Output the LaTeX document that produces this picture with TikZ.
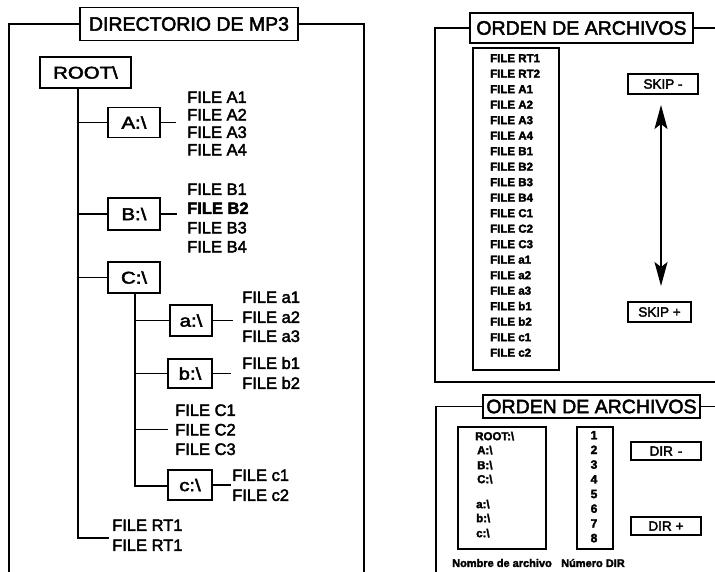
\documentclass[tikz,border=0pt]{standalone}
\usepackage{graphicx}
\usepackage{fontspec}
\setmainfont{Liberation Sans}[FakeBold=2.5]
\usetikzlibrary{arrows.meta}
\newcommand{\wide}[1]{\scalebox{1.2}[1]{#1}}
\begin{document}
\begin{tikzpicture}[x=1pt,y=-1pt,line cap=rect,
  frame/.style={line width=1.6pt},
  conn/.style={line width=1.4pt},
  bx/.style={draw,line width=1.4pt,inner sep=0pt,anchor=center},
  ttl/.style={bx,font=\fontsize{19.5}{20}\selectfont},
  dirbox/.style={bx,minimum width=52pt,minimum height=30pt,font=\fontsize{17}{17}\selectfont},
  ft/.style={anchor=west,inner sep=0pt,text height=11.8pt,text depth=0pt,font=\fontsize{16.5}{17}\selectfont},
  lt/.style={anchor=west,inner sep=0pt,text height=8.3pt,text depth=0pt,font=\fontsize{11.5}{12}\selectfont\bfseries},
  nt/.style={anchor=center,inner sep=0pt,text height=8.6pt,text depth=0pt,font=\fontsize{12}{12}\selectfont\bfseries},
  btn/.style={bx,font=\fontsize{13.5}{14}\selectfont},
]
\useasboundingbox (0,0) rectangle (715,571);
\fill[white] (0,0) rectangle (715,571);

% ---------- left panel ----------
\node[ttl,minimum width=218pt,minimum height=33pt] (t1) at (189,24) {DIRECTORIO DE MP3};
\coordinate (l1tl) at (9,24);
\coordinate (l1bl) at (9,572);
\coordinate (l1tr) at (364,24);
\coordinate (l1br) at (364,572);
\draw[frame] (t1.west) -- (l1tl) -- (l1bl);
\draw[frame] (t1.east) -- (l1tr) -- (l1br);

\node[bx,minimum width=91pt,minimum height=31pt,font=\fontsize{17}{17}\selectfont] (root) at (85.5,72.5) {\wide{ROOT\textbackslash}};
\node[dirbox] (A) at (134,122.5) {\wide{A:\textbackslash}};
\node[dirbox,minimum height=32pt] (B) at (134,214) {\wide{B:\textbackslash}};
\node[dirbox,minimum height=31pt] (C) at (134,277.5) {\wide{C:\textbackslash}};
\node[dirbox,minimum width=42pt,minimum height=31pt] (a) at (191,320.5) {\wide{a:\textbackslash}};
\node[dirbox,minimum width=44pt,minimum height=29pt] (b) at (190,373.5) {\wide{b:\textbackslash}};
\node[dirbox,minimum width=44pt,minimum height=30pt] (c) at (190,485) {\wide{c:\textbackslash}};

\node[ft] (fa1) at (187,97) {FILE A1};
\node[ft] (fa2) at (187,114.5) {FILE A2};
\node[ft] (fa3) at (187,132) {FILE A3};
\node[ft] (fa4) at (187,149.5) {FILE A4};
\node[ft] (fb1) at (187,189) {FILE B1};
\node[ft,font=\fontsize{16.5}{17}\selectfont\bfseries] (fb2) at (187,208) {FILE B2};
\node[ft] (fb3) at (187,227.5) {FILE B3};
\node[ft] (fb4) at (187,246.5) {FILE B4};
\node[ft] (fsa1) at (242,297) {FILE a1};
\node[ft] (fsa2) at (242,317) {FILE a2};
\node[ft] (fsa3) at (242,336) {FILE a3};
\node[ft] (fsb1) at (242,363) {FILE b1};
\node[ft] (fsb2) at (242,383) {FILE b2};
\node[ft] (fc1) at (175,410) {FILE C1};
\node[ft] (fc2) at (175,429.5) {FILE C2};
\node[ft] (fc3) at (175,449) {FILE C3};
\node[ft] (fsc1) at (232,475) {FILE c1};
\node[ft] (fsc2) at (232,495) {FILE c2};
\node[ft] (rt1) at (112,525) {FILE RT1};
\node[ft] (rt2) at (112,545) {FILE RT1};

\coordinate (tk) at (78,538);
\draw[conn] (root.south -| tk) -- (tk) -- ([xshift=-4pt]rt2.west |- tk);
\draw[conn] (tk |- A.west) -- (A.west);
\draw[conn] (tk |- B.west) -- (B.west);
\draw[conn] (tk |- C.west) -- (C.west);
\draw[conn] (A.east) -- ([xshift=-12pt]fa1.west |- A.east);
\draw[conn] (B.east) -- ([xshift=-11pt]fb1.west |- B.east);
\draw[conn] (a.east) -- ([xshift=-10pt]fsa1.west |- a.east);
\draw[conn] (b.east) -- ([xshift=-12pt]fsb1.west |- b.east);
\draw[conn] (c.east) -- ([xshift=-2pt]fsc1.west |- c.east);
\coordinate (sk) at (135,486);
\draw[conn] (C.south -| sk) -- (sk) -- (c.west |- sk);
\draw[conn] (sk |- a.west) -- (a.west);
\draw[conn] (sk |- b.west) -- (b.west);
\draw[conn] (sk |- fc2.west) -- ([xshift=-8pt]fc2.west);

% ---------- top right panel ----------
\node[ttl,minimum width=223pt,minimum height=30pt] (t2) at (581.5,28) {ORDEN DE ARCHIVOS};
\coordinate (r1tl) at (435,28);
\coordinate (r1bl) at (435,382);
\coordinate (r1br) at (716,382);
\coordinate (r1tr) at (716,28);
\draw[frame] (t2.west) -- (r1tl) -- (r1bl) -- (r1br);
\draw[frame] (t2.east) -- (r1tr);

\node[bx,minimum width=86pt,minimum height=322pt] (lb) at (516,209) {};
\foreach \t [count=\i] in {FILE RT1,FILE RT2,FILE A1,FILE A2,FILE A3,FILE A4,FILE B1,FILE B2,FILE B3,FILE B4,FILE C1,FILE C2,FILE C3,FILE a1,FILE a2,FILE a3,FILE b1,FILE b2,FILE c1,FILE c2}
  \node[lt] (li\i) at (490,{58+15.5*(\i-1)}) {\t};

\node[btn,minimum width=70pt,minimum height=20pt] (skm) at (663,84) {SKIP -};
\node[btn,minimum width=63pt,minimum height=20pt] (skp) at (659.5,312) {SKIP +};
\coordinate (au) at (661,105);
\coordinate (ad) at (661,286);
\draw[line width=1.5pt,{Stealth[length=24pt,width=13pt,inset=5pt]}-{Stealth[length=24pt,width=13pt,inset=5pt]}] (au) -- (ad);

% ---------- bottom right panel ----------
\node[ttl,minimum width=217pt,minimum height=23pt] (t3) at (591.5,406.5) {ORDEN DE ARCHIVOS};
\coordinate (r2tl) at (436,406.5);
\coordinate (r2bl) at (436,572);
\coordinate (r2tr) at (716,406.5);
\draw[frame] (t3.west) -- (r2tl) -- (r2bl);
\draw[frame] (t3.east) -- (r2tr);

\node[bx,minimum width=88pt,minimum height=122pt] (nb) at (502,488) {};
\node[bx,minimum width=36pt,minimum height=122pt] (mb) at (595,488) {};
\node[lt] (n1) at (475,436) {ROOT:\textbackslash};
\node[lt] (n2) at (477,450) {A:\textbackslash};
\node[lt] (n3) at (477,465) {B:\textbackslash};
\node[lt] (n4) at (477,479) {C:\textbackslash};
\node[lt] (n5) at (476,504) {a:\textbackslash};
\node[lt] (n6) at (476,518) {b:\textbackslash};
\node[lt] (n7) at (476,533) {c:\textbackslash};
\foreach \i in {1,...,8}
  \node[nt] (m\i) at (594,{435+14.7*(\i-1)}) {\i};

\node[btn,minimum width=70pt,minimum height=18pt] (dm) at (666,451) {DIR\hspace{5pt}-};
\node[btn,minimum width=70pt,minimum height=18pt] (dp) at (666,526) {DIR\hspace{4pt}+};

\node[anchor=west,inner sep=0pt,font=\fontsize{11}{11}\selectfont\bfseries] (lab1) at (452,563) {Nombre de archivo};
\node[anchor=west,inner sep=0pt,font=\fontsize{11}{11}\selectfont\bfseries] (lab2) at (561,563) {Número DIR};
\end{tikzpicture}
\end{document}
